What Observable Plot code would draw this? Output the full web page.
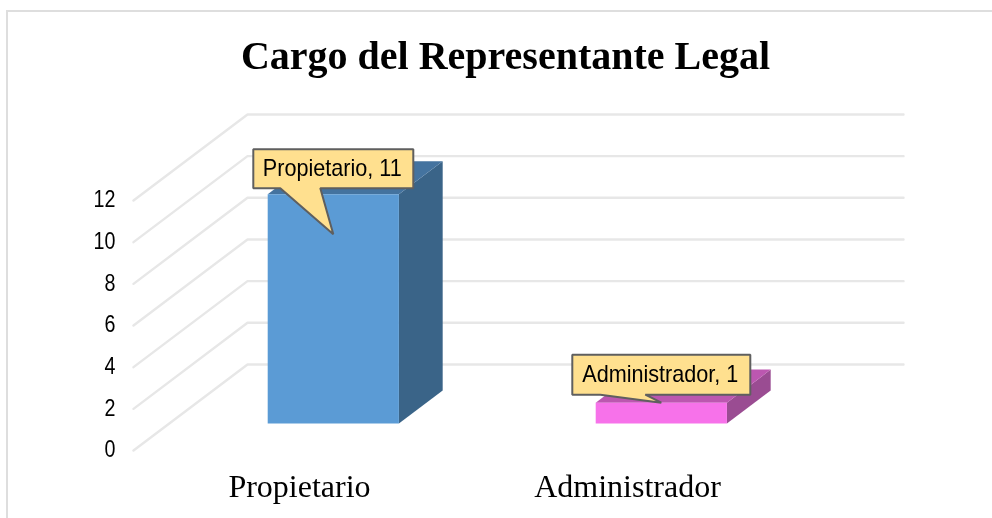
<!DOCTYPE html>
<html>
<head>
<meta charset="utf-8">
<script src="https://cdn.jsdelivr.net/npm/d3@7"></script>
<script src="https://cdn.jsdelivr.net/npm/@observablehq/plot@0.6"></script>
<style>
html,body{margin:0;padding:0;background:#fff;overflow:hidden;width:992px;height:518px}
#frame{position:absolute;left:6px;top:10px;right:-4px;bottom:-4px;border:2px solid #dedede;box-sizing:border-box}
#title{position:absolute;left:7px;width:997px;top:32px;text-align:center;font:bold 40px "Liberation Serif",serif;color:#000;line-height:48px;filter:blur(0.3px)}
#chart{position:absolute;left:0;top:0;filter:blur(0.45px)}
</style>
</head>
<body>
<div id="frame"></div>
<div id="chart"></div>
<div id="title"></div>
<script>
const categories = ["Propietario", "Administrador"];
const values = [11, 1];
const yTicks = [0, 2, 4, 6, 8, 10, 12];
const frontColors = ["#5b9bd5", "#f772ea"];
const topColors = ["#44739f", "#bc57b0"];
const sideColors = ["#3a6488", "#9a4c92"];

const titleText = "Cargo del Representante Legal";
document.getElementById("title").textContent = titleText;

// Oblique projection, in scale units: depth 0 = front floor edge, 1 = back wall
const depthX = 0.3476, depthY = 4.13;
const barHalf = 0.2, barNear = 0.314, barFar = 0.698;
const pxX = 1 / 328, pxY = 1 / 20.83;
const P = (c, v, d) => ({x: c + d * depthX, y: v + d * depthY});

const poly = (pts, options) => Plot.line(pts, {x: "x", y: "y", curve: "linear-closed", ...options});

const gridMarks = yTicks.map((v) =>
  Plot.line([P(-0.5, v, 0), P(-0.5, v, 1), P(1.5, v, 1)], {x: "x", y: "y", stroke: "#e7e7e7", strokeWidth: 2.4, strokeLinejoin: "miter"})
);

const barMarks = categories.flatMap((_, i) => {
  const v = values[i], l = i - barHalf, r = i + barHalf;
  return [
    poly([P(r, 0, barNear), P(r, 0, barFar), P(r, v, barFar), P(r, v, barNear)], {fill: sideColors[i]}),
    poly([P(l, v, barNear), P(l, v, barFar), P(r, v, barFar), P(r, v, barNear)], {fill: topColors[i]}),
    poly([P(l, 0, barNear), P(r, 0, barNear), P(r, v, barNear), P(l, v, barNear)], {fill: frontColors[i]})
  ];
});

// Data-label callouts: box and tail placed relative to each bar's front centre
const calloutShape = [
  {tipV: 9.08, left: -80, right: 80, top: -85, bottom: -46, tailA: -53, tailB: -13},
  {tipV: 1, left: -89, right: 89, top: -48, bottom: -8, tailA: -61, tailB: -16}
];
const calloutMarks = categories.flatMap((name, i) => {
  const s = calloutShape[i];
  const tip = P(i, s.tipV, barNear);
  const at = (px, py) => ({x: tip.x + px * pxX, y: tip.y - py * pxY});
  return [
    poly([
      at(s.left, s.top), at(s.right, s.top), at(s.right, s.bottom), at(s.tailB, s.bottom),
      at(0, 0), at(s.tailA, s.bottom), at(s.left, s.bottom)
    ], {fill: "#ffe08f", stroke: "#5f5f5f", strokeWidth: 2, strokeLinejoin: "miter"}),
    Plot.text([at((s.left + s.right) / 2, (s.top + s.bottom) / 2)], {
      x: "x", y: "y", text: () => `${name}, ${values[i]}`, dx: -1,
      fontSize: 24, fontFamily: "'Liberation Sans',sans-serif", fill: "#000"
    })
  ];
});

const plot = Plot.plot({
  width: 992,
  height: 518,
  marginLeft: 133,
  marginRight: 203,
  marginTop: 200,
  marginBottom: 68,
  x: {type: "linear", domain: [-0.5, 1.5]},
  y: {type: "linear", domain: [0, 12]},
  style: {background: "transparent", overflow: "visible"},
  marks: [
    ...gridMarks,
    ...barMarks,
    ...calloutMarks,
    Plot.axisY({ticks: yTicks, tickSize: 0, tickPadding: 18, dy: -1, label: null, fontSize: 24,
      fontFamily: "'Liberation Sans',sans-serif", color: "#000"}),
    Plot.axisX({ticks: [0, 1], tickFormat: (i) => categories[i], tickSize: 0, tickPadding: 24, label: null,
      fontSize: 32, dx: 2, fontFamily: "'Liberation Serif',serif", color: "#000"})
  ]
});
document.getElementById("chart").appendChild(plot);

// The reference's sans labels are condensed: narrow them while keeping them real text
const narrow = (selection, factor) => selection.each(function () {
  this.setAttribute("textLength", this.getComputedTextLength() * factor);
  this.setAttribute("lengthAdjust", "spacingAndGlyphs");
});
const svg = d3.select(plot);
narrow(svg.selectAll('g[aria-label="y-axis tick label"] text'), 0.82);
narrow(svg.selectAll('g[aria-label="text"] text'), 0.90);
</script>
</body>
</html>
